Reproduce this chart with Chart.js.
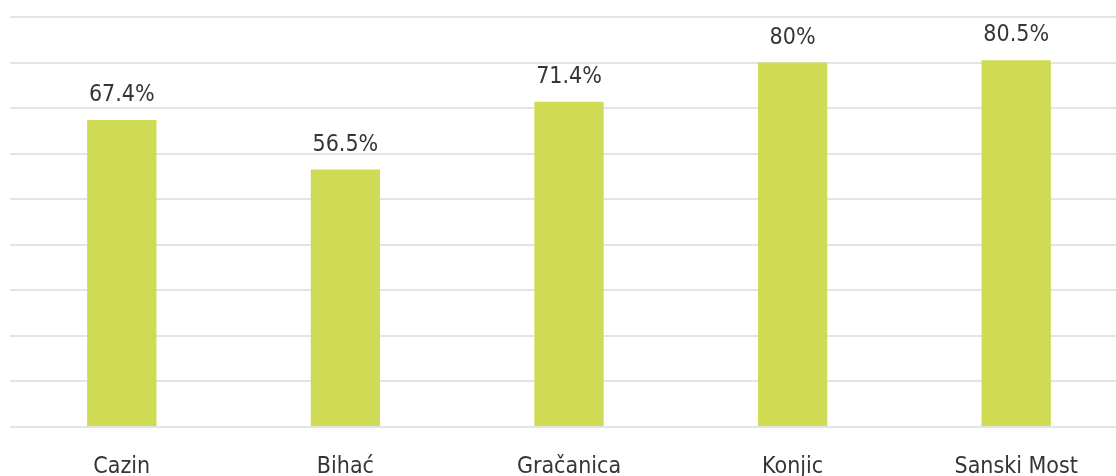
<!DOCTYPE html>
<html>
<head>
<meta charset="utf-8">
<script src="https://cdn.jsdelivr.net/npm/chart.js@4/dist/chart.umd.min.js"></script>
<style>
html,body{margin:0;padding:0;background:#fff;overflow:hidden;}
#wrap{width:1116px;height:476px;overflow:hidden;position:relative;}
#box{width:1128px;height:476px;position:absolute;left:0;top:0;}
</style>
</head>
<body>
<div id="wrap"><div id="box"><canvas id="c"></canvas></div></div>
<script>
const categories = ["Cazin", "Bihać", "Gračanica", "Konjic", "Sanski Most"];
const values = [67.4, 56.5, 71.4, 80, 80.5];
const valueLabels = ["67.4%", "56.5%", "71.4%", "80%", "80.5%"];

const FONT = '"Liberation Sans Narrow", "DejaVu Sans Condensed", Roboto, sans-serif';

const valueLabelPlugin = {
  id: 'valueLabels',
  afterDatasetsDraw(chart) {
    const ctx = chart.ctx;
    const meta = chart.getDatasetMeta(0);
    ctx.save();
    ctx.font = '23px ' + FONT;
    ctx.fillStyle = '#353535';
    ctx.textAlign = 'center';
    ctx.textBaseline = 'middle';
    meta.data.forEach((bar, i) => {
      ctx.fillText(valueLabels[i], bar.x, bar.y - 25);
    });
    ctx.restore();
  }
};

new Chart(document.getElementById('c'), {
  type: 'bar',
  data: {
    labels: categories,
    datasets: [{
      data: values,
      backgroundColor: '#d0db55',
      borderWidth: 0,
      categoryPercentage: 1,
      barPercentage: 0.31
    }]
  },
  options: {
    responsive: true,
    maintainAspectRatio: false,
    animation: false,
    events: [],
    layout: { padding: { top: 17, left: 10, right: 0, bottom: 0 } },
    plugins: { legend: { display: false }, tooltip: { enabled: false } },
    scales: {
      x: {
        grid: { display: false, drawTicks: false },
        border: { display: false },
        afterFit: (scale) => { scale.height = 49; },
        ticks: {
          padding: 29,
          maxRotation: 0,
          color: '#353535',
          font: { family: FONT, size: 23, lineHeight: 1.0 }
        }
      },
      y: {
        min: 0, max: 90,
        ticks: { stepSize: 10, display: false },
        grid: { color: '#e4e4e4', lineWidth: 2, drawTicks: false },
        border: { display: false }
      }
    }
  },
  plugins: [valueLabelPlugin]
});
</script>
</body>
</html>
